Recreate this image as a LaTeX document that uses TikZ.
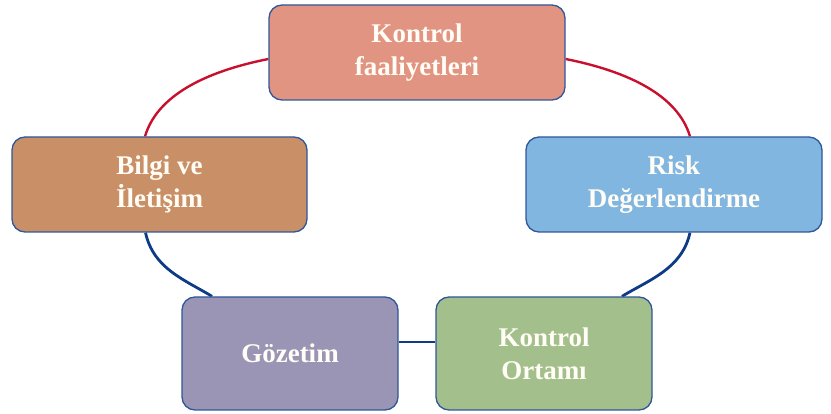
\documentclass[tikz,border=0pt]{standalone}
\usepackage{fontspec}
\setmainfont{Liberation Serif}
\usetikzlibrary{calc,backgrounds}
\definecolor{kfcol}{HTML}{E29482}
\definecolor{bicol}{HTML}{C98F67}
\definecolor{rdcol}{HTML}{80B6E0}
\definecolor{gzcol}{HTML}{9A95B5}
\definecolor{kocol}{HTML}{A3BF8B}
\definecolor{edgecol}{HTML}{30579A}
\definecolor{redline}{HTML}{C8102E}
\definecolor{blueline}{HTML}{0E3B86}
\definecolor{txtcol}{HTML}{FFFDF5}
\tikzset{
  box/.style={draw=edgecol, line width=1.3pt, rounded corners=13pt, inner sep=0pt,
    align=center, text=txtcol, font=\fontsize{27}{33}\selectfont\bfseries},
  redconn/.style={draw=redline, line width=2.4pt},
  blueconn/.style={draw=blueline, line width=2.8pt}
}
\begin{document}
\begin{tikzpicture}[x=1pt, y=-1pt]
\useasboundingbox (0,0) rectangle (831,414);
\node[box, fill=kfcol, minimum width=296pt, minimum height=95pt] (kf) at (417,52.5) {Kontrol\\faaliyetleri};
\node[box, fill=bicol, minimum width=295pt, minimum height=95pt] (bi) at (159.5,184.5) {Bilgi ve\\İletişim};
\node[box, fill=rdcol, minimum width=296pt, minimum height=95pt] (rd) at (674,184.5) {Risk\\Değerlendirme};
\node[box, fill=gzcol, minimum width=216pt, minimum height=113pt] (gz) at (290,353.5) {Gözetim};
\node[box, fill=kocol, minimum width=216pt, minimum height=113pt] (ko) at (544,353.5) {Kontrol\\Ortamı};
\begin{scope}[on background layer]
\draw[redconn] ([yshift=-6.5pt]kf.west) .. controls +(-65,13) and +(12,-40) .. ([xshift=-14.5pt]bi.north);
\draw[redconn] ([yshift=-6.5pt]kf.east) .. controls +(65,13) and +(-12,-40) .. ([xshift=16pt]rd.north);
\draw[blueconn] ([xshift=-14pt]bi.south) .. controls +(8,36) and +(-28,-17) .. ([xshift=-78pt]gz.north);
\draw[blueconn] ([xshift=16pt]rd.south) .. controls +(-8,36) and +(28,-17) .. ([xshift=78pt]ko.north);
\draw[blueconn] ([yshift=11.5pt]gz.east) -- ([yshift=11.5pt]ko.west);
\end{scope}
\end{tikzpicture}
\end{document}
